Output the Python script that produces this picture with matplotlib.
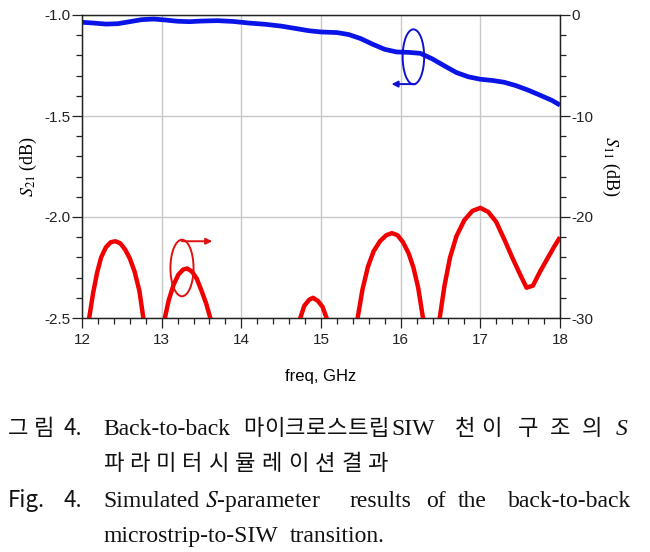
import numpy as np
import matplotlib.pyplot as plt
from matplotlib.patches import Ellipse
from matplotlib.ticker import MultipleLocator

plt.rcParams['mathtext.fontset'] = 'stix'

# S21 (left axis, dB)
freq_s21 = [12.0, 12.15, 12.3, 12.45, 12.6, 12.75, 12.9, 13.05, 13.2, 13.35,
            13.5, 13.7, 13.9, 14.1, 14.3, 14.5, 14.7, 14.85, 15.0, 15.2,
            15.35, 15.5, 15.65, 15.8, 15.95, 16.1, 16.25, 16.4, 16.55, 16.7,
            16.85, 17.0, 17.15, 17.3, 17.45, 17.6, 17.75, 17.9, 18.0]
s21 = [-1.036, -1.040, -1.045, -1.043, -1.033, -1.023, -1.020, -1.025, -1.031, -1.033,
       -1.030, -1.028, -1.032, -1.040, -1.046, -1.055, -1.068, -1.078, -1.084, -1.087,
       -1.097, -1.117, -1.145, -1.170, -1.183, -1.185, -1.190, -1.218, -1.252, -1.285,
       -1.306, -1.318, -1.324, -1.333, -1.350, -1.372, -1.397, -1.423, -1.446]

# S11 (right axis, dB) - the dips go below the -30 dB floor
freq_s11 = [12.0,
            12.09, 12.14, 12.19, 12.24, 12.30, 12.36, 12.42, 12.48, 12.54, 12.60, 12.66, 12.72, 12.77,
            12.90,
            13.04, 13.09, 13.15, 13.21, 13.27, 13.32, 13.38, 13.44, 13.50, 13.56, 13.61,
            14.2,
            14.74, 14.79, 14.85, 14.90, 14.96, 15.02, 15.07,
            15.3,
            15.46, 15.52, 15.59, 15.66, 15.74, 15.82, 15.89, 15.96, 16.03, 16.10, 16.16, 16.22, 16.28,
            16.40,
            16.49, 16.55, 16.62, 16.70, 16.80, 16.90, 17.00, 17.10, 17.20, 17.30, 17.40, 17.50,
            17.58, 17.66, 17.75, 17.85, 17.93, 18.0]
s11 = [-38,
       -30, -27.5, -25.5, -24.0, -23.0, -22.5, -22.4, -22.6, -23.2, -24.1, -25.4, -27.3, -30,
       -38,
       -30, -28.2, -26.7, -25.7, -25.2, -25.1, -25.4, -26.1, -27.3, -28.6, -30,
       -40,
       -30, -28.8, -28.2, -28.0, -28.3, -28.9, -30,
       -40,
       -30, -27.2, -24.9, -23.4, -22.4, -21.8, -21.6, -21.8, -22.5, -23.6, -25.0, -27.0, -30,
       -38,
       -30, -26.8, -24.0, -21.9, -20.3, -19.4, -19.1, -19.5, -20.5, -22.2, -24.0, -25.7,
       -27.0, -26.8, -25.4, -24.0, -22.9, -22.0]

xticks = [12, 13, 14, 15, 16, 17, 18]
s21_ticks = [-2.5, -2.0, -1.5, -1.0]
s11_ticks = [-30, -20, -10, 0]

fig = plt.figure(figsize=(6.5, 5.52), dpi=100)
W, H = 650, 552
ax1 = fig.add_axes([82 / W, 1 - 318 / H, 478 / W, 303 / H])
ax2 = ax1.twinx()

ax1.set_xlim(12, 18)
ax1.set_ylim(-2.5, -1.0)
ax2.set_ylim(-30, 0)

ax1.set_xticks(xticks)
ax1.set_yticks(s21_ticks)
ax2.set_yticks(s11_ticks)
ax1.xaxis.set_minor_locator(MultipleLocator(0.2))
ax1.yaxis.set_minor_locator(MultipleLocator(0.1))
ax2.yaxis.set_minor_locator(MultipleLocator(2))
ax1.set_yticklabels(['%.1f' % t for t in s21_ticks])
ax2.set_yticklabels(['%d' % t for t in s11_ticks])

grid_c = '#c8c8c8'
ax1.grid(True, which='major', color=grid_c, linewidth=1.0)
ax1.set_axisbelow(True)

for ax in (ax1, ax2):
    ax.tick_params(which='major', direction='out', length=7.5, width=0.9, pad=1.0,
                   labelsize=11, colors='#222222')
    ax.tick_params(which='minor', direction='out', length=4.5, width=0.9, color='#222222')
    for s in ax.spines.values():
        s.set_color('#222222')
        s.set_linewidth(0.9)
    for lab in ax.get_xticklabels() + ax.get_yticklabels():
        lab.set_family('Liberation Sans')
ax1.tick_params(axis='x', which='major', pad=3)

ax1.plot(freq_s21, s21, color='#0a14e6', linewidth=3.4, solid_capstyle='butt', zorder=3)
ax2.plot(freq_s11, s11, color='#f00000', linewidth=3.2, solid_capstyle='butt', zorder=3)

ax1.set_xlabel('freq, GHz', family='Liberation Sans', fontsize=12, labelpad=16)
ax1.set_ylabel('$S_{21}$ (dB)', family='Liberation Serif', fontsize=13, labelpad=4)
ax2.set_ylabel('$S_{11}$ (dB)', family='Liberation Serif', fontsize=13, rotation=-90,
               labelpad=20)

# annotation ellipses with arrows
ax2.add_patch(Ellipse((13.255, -25.05), 0.29, 5.6, fill=False, edgecolor='#e01010',
                      linewidth=1.4, zorder=4))
ax2.annotate('', xy=(13.67, -22.4), xytext=(13.22, -22.4),
             arrowprops=dict(arrowstyle='-|>', color='#e01010', lw=1.4, mutation_scale=9))
ax1.add_patch(Ellipse((16.16, -1.207), 0.27, 0.272, fill=False, edgecolor='#1010d0',
                      linewidth=1.4, zorder=4))
ax1.annotate('', xy=(15.85, -1.342), xytext=(16.22, -1.342),
             arrowprops=dict(arrowstyle='-|>', color='#1010d0', lw=1.4, mutation_scale=9))

# caption
kr = 'Noto Sans CJK KR'
en = 'Liberation Serif'


def put(x, y, s, family, size, style='normal'):
    fig.text(x / W, 1 - y / H, s, family=family, fontsize=size, style=style,
             va='baseline', ha='left', color='#111111')


def spread(x0, x1, y, s, size):
    step = (x1 - x0) / len(s)
    for i, ch in enumerate(s):
        if ch != ' ':
            put(x0 + i * step, y, ch, kr, size)


fs_en = 17
fs_kr = 16
y1, y2, y3, y4 = 435, 470, 507, 542

spread(8, 60, y1, '그림', fs_kr)
put(64, y1, '4.', kr, fs_kr)
put(103, y1, 'Back-to-back', en, fs_en)
spread(243, 390, y1, '마이크로스트립', fs_kr)
put(391, y1, 'SIW', en, fs_en)
spread(455, 508, y1, '천이', fs_kr)
spread(518, 614, y1, '구조의', fs_kr)
put(616, y1, 'S', en, fs_en, 'italic')

spread(103, 394, y2, '파라미터시뮬레이션결과', fs_kr)

put(8, y3, 'Fig.', kr, fs_kr)
put(64, y3, '4.', kr, fs_kr)
words3 = ['Simulated', '$S$-parameter', 'results', 'of', 'the', 'back-to-back']
xs3 = [103, 205, 349, 426, 458, 508]
for w, x in zip(words3, xs3):
    put(x, y3, w, en, fs_en)

put(103, y4, 'microstrip-to-SIW', en, fs_en)
put(290, y4, 'transition.', en, fs_en)

fig.savefig('out.png', dpi=100)
